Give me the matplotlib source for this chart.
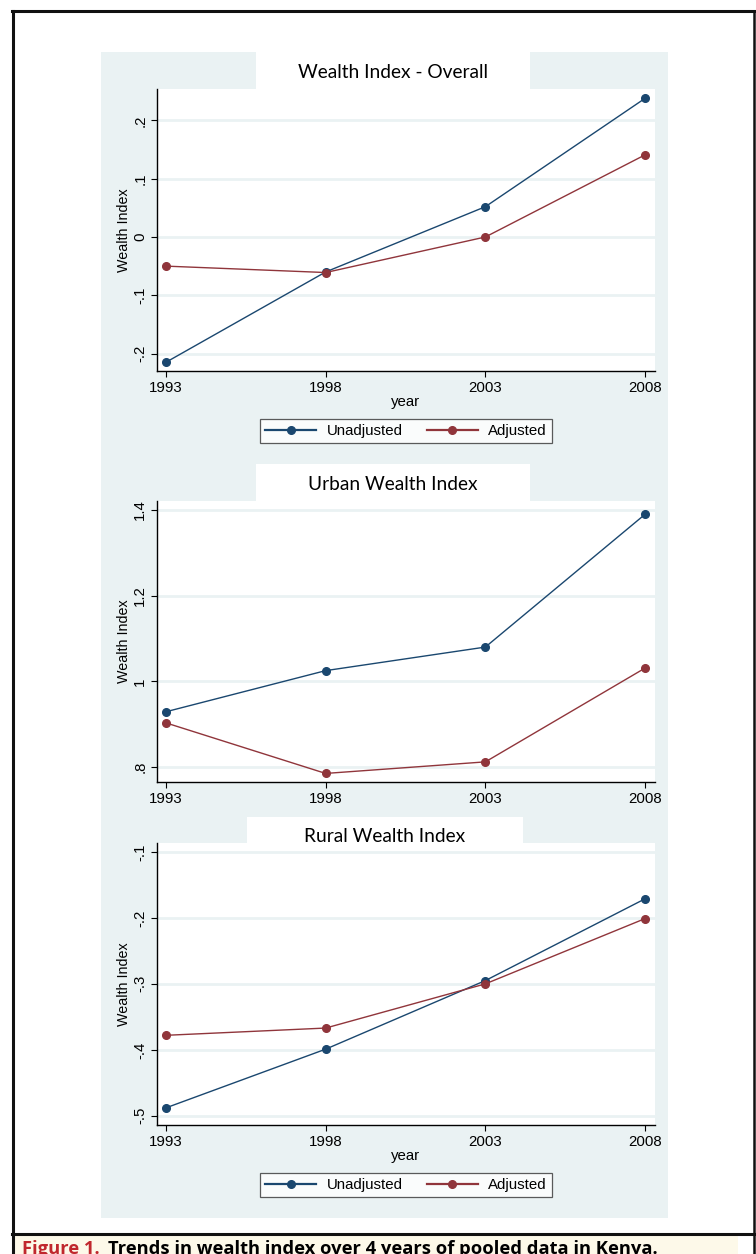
import matplotlib
matplotlib.use("Agg")
import matplotlib.pyplot as plt
from matplotlib.patches import Rectangle
from matplotlib.lines import Line2D

# ---------------- data ----------------
years = [1993, 1998, 2003, 2008]
year_labels = ["1993", "1998", "2003", "2008"]

overall_unadjusted = [-0.215, -0.060, 0.052, 0.238]
overall_adjusted = [-0.050, -0.061, 0.000, 0.141]
overall_ticks = [-0.2, -0.1, 0.0, 0.1, 0.2]
overall_tick_labels = ["-.2", "-.1", "0", ".1", ".2"]

urban_unadjusted = [0.929, 1.025, 1.080, 1.390]
urban_adjusted = [0.903, 0.785, 0.812, 1.031]
urban_ticks = [0.8, 1.0, 1.2, 1.4]
urban_tick_labels = [".8", "1", "1.2", "1.4"]

rural_unadjusted = [-0.488, -0.399, -0.295, -0.171]
rural_adjusted = [-0.378, -0.367, -0.300, -0.201]
rural_ticks = [-0.5, -0.4, -0.3, -0.2, -0.1]
rural_tick_labels = ["-.5", "-.4", "-.3", "-.2", "-.1"]

series_names = ["Unadjusted", "Adjusted"]
titles = ["Wealth Index - Overall", "Urban Wealth Index", "Rural Wealth Index"]
y_title = "Wealth Index"
x_title = "year"
caption_label = "Figure 1."
caption_text = "Trends in wealth index over 4 years of pooled data in Kenya."

# ---------------- styles ----------------
W, H = 756, 1254
DPI = 100
NAVY = "#1a476f"
MAROON = "#90353b"
PANEL_BG = "#eaf2f3"
GRID = "#eaf2f3"
SANS = ["Liberation Sans", "DejaVu Sans"]
TITLE_FONT = ["Lato", "DejaVu Sans"]

fig = plt.figure(figsize=(W / DPI, H / DPI), dpi=DPI)
fig.patch.set_facecolor("white")


def fx(x):
    return x / W


def fy(y):
    return 1 - y / H


def rect(x0, y0, x1, y1):
    return [x0 / W, 1 - y1 / H, (x1 - x0) / W, (y1 - y0) / H]


# panel background
fig.patches.append(Rectangle((fx(101), fy(1218)), (668 - 101) / W, (1218 - 52) / H,
                             transform=fig.transFigure, facecolor=PANEL_BG,
                             edgecolor="none", zorder=0))

panels = [
    dict(title=titles[0], ax=(157, 89, 655, 371), tbox=(256, 52, 530, 89),
         tcenter=(393, 72), un=overall_unadjusted, ad=overall_adjusted,
         ylim=(-0.230, 0.254), ticks=overall_ticks, tlabels=overall_tick_labels,
         xlabel_y=402, legend_y=431),
    dict(title=titles[1], ax=(157, 501, 655, 782), tbox=(256, 464, 530, 501),
         tcenter=(393, 484), un=urban_unadjusted, ad=urban_adjusted,
         ylim=(0.765, 1.421), ticks=urban_ticks, tlabels=urban_tick_labels,
         xlabel_y=None, legend_y=None),
    dict(title=titles[2], ax=(157, 843, 655, 1125), tbox=(247, 817, 523, 843),
         tcenter=(385, 837), un=rural_unadjusted, ad=rural_adjusted,
         ylim=(-0.514, -0.0864), ticks=rural_ticks, tlabels=rural_tick_labels,
         xlabel_y=1156, legend_y=1185),
]

for p in panels:
    # white title box
    x0, y0, x1, y1 = p["tbox"]
    fig.patches.append(Rectangle((fx(x0), fy(y1)), (x1 - x0) / W, (y1 - y0) / H,
                                 transform=fig.transFigure, facecolor="white",
                                 edgecolor="none", zorder=1))
    ax = fig.add_axes(rect(*p["ax"]))
    ax.set_facecolor("white")
    ax.set_zorder(2)
    lu, = ax.plot(years, p["un"], color=NAVY, lw=1.0, marker="o", ms=5.5,
                  mfc=NAVY, mec=NAVY, label=series_names[0], zorder=3)
    la, = ax.plot(years, p["ad"], color=MAROON, lw=1.0, marker="o", ms=5.5,
                  mfc=MAROON, mec=MAROON, label=series_names[1], zorder=3)
    ax.set_xlim(1992.72, 2008.31)
    ax.set_ylim(*p["ylim"])
    ax.set_xticks(years)
    ax.set_xticklabels(year_labels, fontfamily=SANS, fontsize=10.8)
    ax.set_yticks(p["ticks"])
    ax.set_yticklabels(p["tlabels"], fontfamily=SANS, fontsize=10.8,
                       rotation=90, va="center", ha="right")
    ax.grid(axis="y", color=GRID, lw=2.0, zorder=0)
    ax.set_axisbelow(True)
    for s in ("top", "right"):
        ax.spines[s].set_visible(False)
    for s in ("left", "bottom"):
        ax.spines[s].set_linewidth(1.0)
        ax.spines[s].set_color("black")
    ax.tick_params(axis="both", direction="out", length=4.0, width=0.8,
                   pad=3, color="black")
    # title
    fig.text(fx(p["tcenter"][0]), fy(p["tcenter"][1]), p["title"],
             ha="center", va="center", fontsize=13.8, fontfamily=TITLE_FONT,
             color="black", zorder=5)
    # y label
    ymid = (p["ax"][1] + p["ax"][3]) / 2
    fig.text(fx(124), fy(ymid), y_title, rotation=90, ha="center", va="center",
             fontsize=10.3, fontfamily=SANS)
    if p["xlabel_y"] is not None:
        fig.text(fx(406), fy(p["xlabel_y"]), x_title, ha="center", va="center",
                 fontsize=10.8, fontfamily=SANS)
    if p["legend_y"] is not None:
        leg = fig.legend(handles=[lu, la], loc="center",
                         bbox_to_anchor=(fx(406), fy(p["legend_y"])),
                         ncol=2, frameon=True, fancybox=False,
                         prop={"family": SANS, "size": 10.8},
                         handlelength=3.4, handletextpad=0.7, columnspacing=1.6,
                         borderpad=0.35, borderaxespad=0)
        leg.get_frame().set_edgecolor("#333333")
        leg.get_frame().set_linewidth(0.9)
        for h in leg.legend_handles:
            h.set_linewidth(1.6)

# outer border
border_kw = dict(transform=fig.transFigure, color="#111111", zorder=10)
fig.add_artist(Line2D([fx(13), fx(13)], [fy(11), fy(1254)], lw=2.2, **border_kw))
fig.add_artist(Line2D([fx(754), fx(754)], [fy(11), fy(1254)], lw=1.8, **border_kw))
fig.add_artist(Line2D([fx(12), fx(755)], [fy(11), fy(11)], lw=2.2, **border_kw))
fig.add_artist(Line2D([fx(12), fx(755)], [fy(1234), fy(1234)], lw=2.2, **border_kw))

# caption strip
fig.patches.append(Rectangle((fx(15), fy(1254)), (738 - 15) / W, (1254 - 1236) / H,
                             transform=fig.transFigure, facecolor="#fdf9e9",
                             edgecolor="none", zorder=1))
fig.text(fx(22), fy(1254), caption_label, ha="left", va="baseline",
         fontsize=13.2, fontweight="bold", fontfamily=["Open Sans", "DejaVu Sans"],
         color="#c0272d", zorder=5)
fig.text(fx(108), fy(1254), caption_text, ha="left", va="baseline",
         fontsize=13.2, fontweight="bold", fontfamily=["Open Sans", "DejaVu Sans"],
         color="black", zorder=5)

fig.savefig("out.png", dpi=DPI)
